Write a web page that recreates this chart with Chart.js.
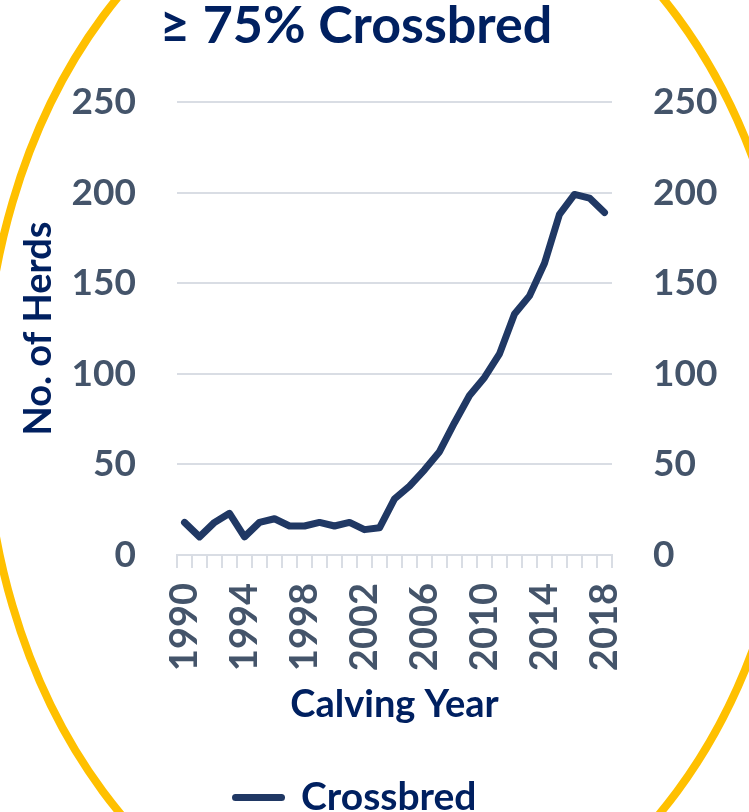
<!DOCTYPE html>
<html>
<head>
<meta charset="utf-8">
<script src="https://cdn.jsdelivr.net/npm/chart.js@4.4.1/dist/chart.umd.min.js"></script>
<style>
  html, body { margin: 0; padding: 0; background: #fff; overflow: hidden; }
  #wrap { width: 749px; height: 812px; position: relative; }
</style>
</head>
<body>
<div id="wrap"><canvas id="crossbredChart"></canvas></div>
<script>
const years = ['1990', '1991', '1992', '1993', '1994', '1995', '1996', '1997', '1998', '1999',
  '2000', '2001', '2002', '2003', '2004', '2005', '2006', '2007', '2008', '2009',
  '2010', '2011', '2012', '2013', '2014', '2015', '2016', '2017', '2018'];
const herds = [18, 10, 18, 23, 10, 18, 20, 16, 16, 18,
  16, 18, 14, 15, 31, 38, 47, 57, 73, 88,
  98, 111, 133, 143, 161, 188, 199, 197, 189];
const labelYears = ['1990', '1994', '1998', '2002', '2006', '2010', '2014', '2018'];
const yMin = 0;
const yMax = 250;
const yStep = 50;

const navy = '#002060';
const slate = '#44546A';
const lineNavy = '#203864';
const gridGray = '#D9DDE4';
const fontFamily = 'Lato, "Open Sans", sans-serif';

// yellow oval round the whole picture
const ovalFrame = {
    id: 'ovalFrame',
    beforeDraw(chart) {
        const ctx = chart.ctx;
        ctx.save();
        ctx.beginPath();
        ctx.ellipse(390, 404, 406, 548, 0, 0, Math.PI * 2);
        ctx.lineWidth = 8;
        ctx.strokeStyle = '#FFC000';
        ctx.stroke();
        ctx.restore();
    }
};

const tickFont = { family: fontFamily, size: 37, weight: 'bold' };
const titleFont = { family: fontFamily, size: 38, weight: 'bold' };

const ctx = document.getElementById('crossbredChart').getContext('2d');
new Chart(ctx, {
    type: 'line',
    data: {
        labels: years,
        datasets: [{
            label: 'Crossbred',
            data: herds,
            borderColor: lineNavy,
            backgroundColor: lineNavy,
            borderWidth: 7,
            borderCapStyle: 'round',
            borderJoinStyle: 'round',
            pointRadius: 0,
            tension: 0,
            yAxisID: 'y'
        }]
    },
    options: {
        responsive: true,
        maintainAspectRatio: false,
        animation: false,
        // negative left/bottom so the title and legend sit where the original has them
        layout: { padding: { left: -37, right: 0, top: 0, bottom: -15 } },
        plugins: {
            title: {
                display: true,
                text: '≥ 75% Crossbred',
                color: navy,
                font: { family: fontFamily, size: 52, weight: 'bold', lineHeight: 1.0 },
                padding: { top: 0, bottom: 50 }
            },
            legend: {
                position: 'bottom',
                labels: {
                    color: navy,
                    font: { family: fontFamily, size: 39, weight: 'bold' },
                    boxWidth: 46,
                    boxHeight: 0,
                    padding: 0
                }
            },
            tooltip: { enabled: false }
        },
        scales: {
            x: {
                type: 'category',
                offset: true,
                grid: {
                    display: true,
                    drawOnChartArea: false,
                    offset: true,
                    tickLength: 13,
                    color: gridGray,
                    lineWidth: 2
                },
                border: { display: true, color: gridGray, width: 2 },
                ticks: {
                    autoSkip: false,
                    maxRotation: 90,
                    minRotation: 90,
                    padding: 15,
                    color: slate,
                    font: { family: fontFamily, size: 38, weight: 'bold' },
                    callback: (value, index) => labelYears.includes(years[index]) ? years[index] : ''
                },
                title: {
                    display: true,
                    text: 'Calving Year',
                    color: navy,
                    font: titleFont,
                    padding: { top: 0, bottom: 50 }
                },
                afterFit(scale) { scale.height = 223; }
            },
            y: {
                position: 'left',
                min: yMin,
                max: yMax,
                ticks: { stepSize: yStep, padding: 41, color: slate, font: tickFont },
                grid: { color: gridGray, lineWidth: 2, drawTicks: false },
                border: { display: false },
                title: {
                    display: true,
                    text: 'No. of Herds',
                    color: navy,
                    font: titleFont,
                    padding: { top: 53, bottom: 0 }
                },
                afterFit(scale) { scale.width = 214; }
            },
            y2: {
                position: 'right',
                min: yMin,
                max: yMax,
                ticks: { stepSize: yStep, padding: 41, color: slate, font: tickFont },
                grid: { drawOnChartArea: false, drawTicks: false },
                border: { display: false },
                afterFit(scale) { scale.width = 137; }
            }
        }
    },
    plugins: [ovalFrame]
});
</script>
</body>
</html>
